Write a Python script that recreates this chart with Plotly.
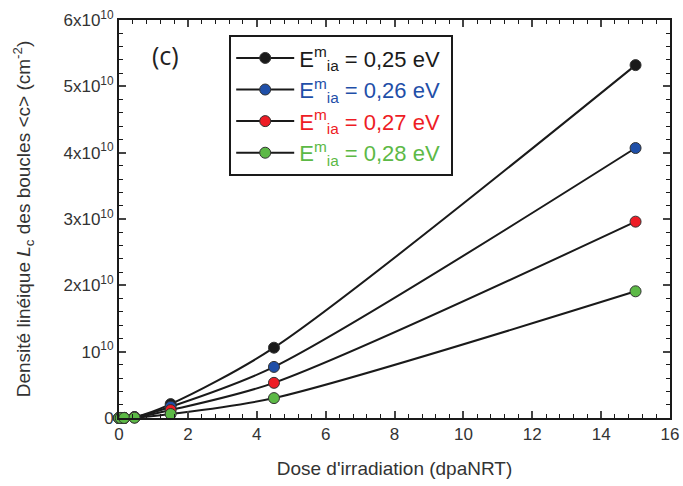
import plotly.graph_objects as go

dose = [0, 0.05, 0.15, 0.45, 1.5, 4.5, 15]
series_names = ["0,25 eV", "0,26 eV", "0,27 eV", "0,28 eV"]
series_colors = ["#1a1a1a", "#1f4fa8", "#ee1c25", "#5cb946"]
density_025 = [0, 2e6, 2e7, 1.5e8, 2.1e9, 1.06e10, 5.32e10]
density_026 = [0, 1.5e6, 1.5e7, 1.1e8, 1.7e9, 7.7e9, 4.07e10]
density_027 = [0, 1e6, 1e7, 8e7, 1.2e9, 5.3e9, 2.96e10]
density_028 = [0, 5e5, 5e6, 5e7, 6e8, 3.0e9, 1.91e10]
all_density = [density_025, density_026, density_027, density_028]

y_tickvals = [0, 1e10, 2e10, 3e10, 4e10, 5e10, 6e10]
y_ticktext = ["0", "10<sup>10</sup>", "2x10<sup>10</sup>", "3x10<sup>10</sup>",
              "4x10<sup>10</sup>", "5x10<sup>10</sup>", "6x10<sup>10</sup>"]
x_tickvals = [0, 2, 4, 6, 8, 10, 12, 14, 16]

fig = go.Figure()
for name, col, vals in zip(series_names, series_colors, all_density):
    fig.add_trace(go.Scatter(
        x=dose, y=vals, mode="lines+markers",
        name=f'<span style="color:{col}">E<sup>m</sup><sub>ia</sub> = {name}</span>&nbsp;',
        line=dict(color="#1a1a1a", width=2, shape="spline", smoothing=0.8),
        marker=dict(color=col, size=11, line=dict(color="#333333", width=1)),
        cliponaxis=False,
    ))

fig.add_annotation(text="(c)", x=0.085, y=0.912, xref="paper", yref="paper",
                   showarrow=False, xanchor="center", yanchor="middle",
                   font=dict(family="Open Sans", size=25, color="#222222"))

fig.update_layout(
    width=683, height=486,
    margin=dict(l=119, r=13, t=20, b=68),
    paper_bgcolor="white", plot_bgcolor="white",
    font=dict(family="Liberation Sans", size=17, color="#333333"),
    showlegend=True,
    legend=dict(x=0.2, y=0.962, xanchor="left", yanchor="top",
                bordercolor="#1a1a1a", borderwidth=2, bgcolor="white",
                font=dict(size=22), itemwidth=58, tracegroupgap=0),
    xaxis=dict(range=[0, 16], tickvals=x_tickvals, ticks="inside", ticklen=7,
               tickwidth=2, showline=True, linewidth=2, linecolor="#1a1a1a",
               mirror="ticks", showgrid=False, zeroline=False, automargin=False,
               ticklabeloverflow="allow",
               minor=dict(dtick=0.4, ticks="inside", ticklen=4, tickwidth=1, tickcolor="#1a1a1a"),
               title=dict(text="Dose d'irradiation (dpaNRT)", font=dict(size=19), standoff=18),
               tickfont=dict(size=17)),
    yaxis=dict(range=[0, 6e10], tickvals=y_tickvals, ticktext=y_ticktext, ticks="inside",
               ticklen=7, tickwidth=2, showline=True, linewidth=2, linecolor="#1a1a1a",
               mirror="ticks", showgrid=False, zeroline=False, automargin=False,
               ticklabeloverflow="allow",
               minor=dict(dtick=2e9, ticks="inside", ticklen=4, tickwidth=1, tickcolor="#1a1a1a"),
               title=dict(text="Densité linéique <i>L</i><sub>c</sub> des boucles &lt;c&gt; (cm<sup>-2</sup>)",
                          font=dict(size=19), standoff=28),
               tickfont=dict(size=17)),
)
fig.write_html(
    "out.html",
    config={"displayModeBar": False},
    post_script="document.documentElement.style.margin='0';document.body.style.margin='0';"
                "document.body.style.overflow='hidden';",
)
